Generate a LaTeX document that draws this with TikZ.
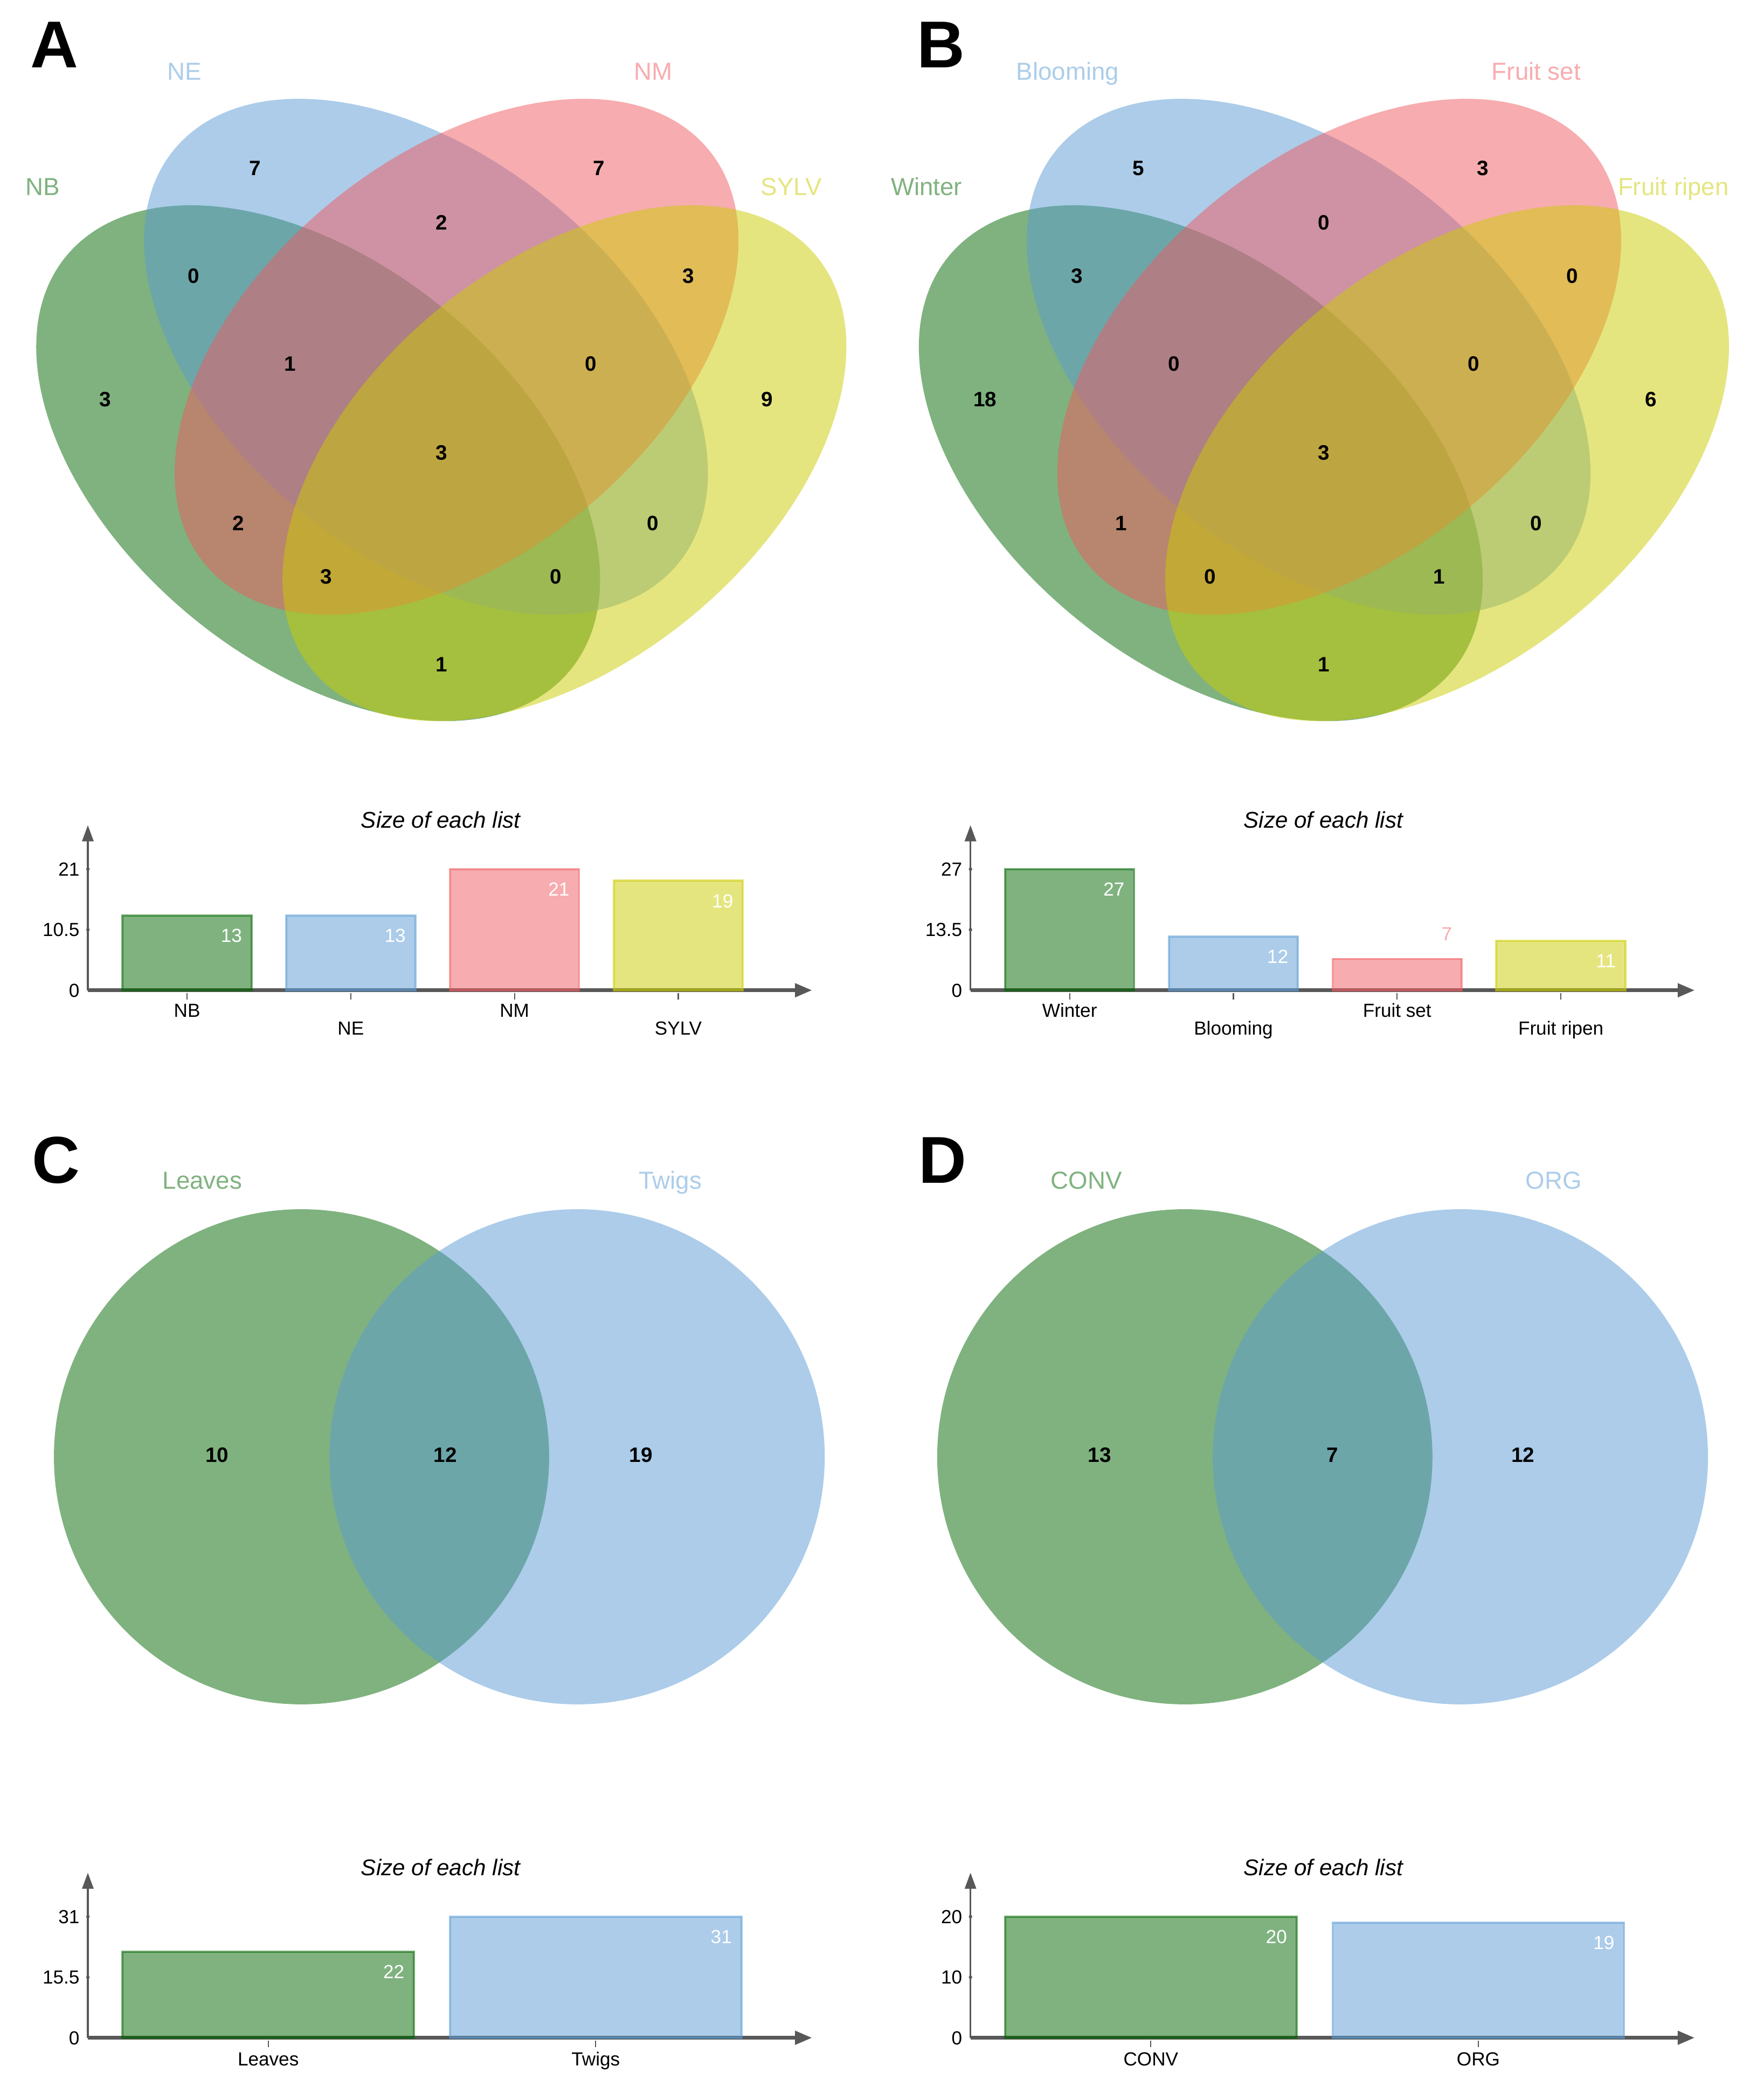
\documentclass[tikz,border=0pt]{standalone}
\usepackage{fontspec}
\setmainfont{Liberation Sans}
\usetikzlibrary{arrows.meta}
\definecolor{cg}{RGB}{0,102,0}
\definecolor{cb}{RGB}{90,155,212}
\definecolor{cp}{RGB}{241,90,96}
\definecolor{cy}{RGB}{204,204,0}
\definecolor{axgray}{RGB}{88,88,88}
\colorlet{lg}{cg!50!white}
\colorlet{lb}{cb!50!white}
\colorlet{lp}{cp!50!white}
\colorlet{ly}{cy!50!white}

\newcommand\vel[4]{%
  \begin{scope}[shift={(#1,#2)}, yscale=0.915, rotate=#3]
    \fill[#4, fill opacity=0.5] (0,0) ellipse [x radius=255, y radius=157];
  \end{scope}}

\newcommand\chartframe[3]{%
  \node[ttl] (#1title) at (331,616) {Size of each list};
  \coordinate (#1o) at (66,744);
  \coordinate (#1ytip) at (66,620);
  \coordinate (#1xtip) at (610,744);
  \draw[yax] (#1o) -- (#1ytip);
  \draw[xax] (#1o) -- (#1xtip);
  \fill[axgray] (66,653) circle [radius=1.3];
  \fill[axgray] (66,698.5) circle [radius=1.3];
  \node[ticklab, anchor=east] (#1t0) at (60,744) {0};
  \node[ticklab, anchor=east] (#1t1) at (60,698.5) {#3};
  \node[ticklab, anchor=east] (#1t2) at (60,653) {#2};}

% name, x1, x2, value, max, colour, category, category y
\newcommand\cbar[8]{%
  \pgfmathsetmacro\bt{744-91*#4/#5}
  \filldraw[barsty, fill=#6, draw=#6] (#2,744) rectangle (#3,\bt);
  \node[vallab, anchor=east] (#1v) at ({#3-7},{\bt+15}) {#4};
  \draw[xtk] ({(#2+#3)/2},746) -- ({(#2+#3)/2},751);
  \node[ticklab] (#1c) at ({(#2+#3)/2},#8) {#7};}

\newcommand\cbarup[9]{%
  \pgfmathsetmacro\bt{744-91*#4/#5}
  \filldraw[barsty, fill=#6, draw=#6] (#2,744) rectangle (#3,\bt);
  \node[ticklab, text=#9, anchor=east] (#1v) at ({#3-7},{\bt-19}) {#4};
  \draw[xtk] ({(#2+#3)/2},746) -- ({(#2+#3)/2},751);
  \node[ticklab] (#1c) at ({(#2+#3)/2},#8) {#7};}

\begin{document}
\begin{tikzpicture}[x=0.024702cm, y=-0.024702cm,
  num/.style={font=\fontsize{11}{11}\selectfont\bfseries, inner sep=0pt, text height=7.9pt, text depth=0pt},
  setlab/.style={font=\fontsize{13}{13}\selectfont, inner sep=0pt, text height=9.3pt, text depth=0pt},
  panel/.style={font=\fontsize{35}{35}\selectfont\bfseries, inner sep=0pt, text height=25pt, text depth=0pt},
  ttl/.style={font=\fontsize{12}{12}\selectfont\itshape, inner sep=0pt, text height=8.6pt, text depth=0pt},
  ticklab/.style={font=\fontsize{10}{10}\selectfont, inner sep=0pt, text height=7.2pt, text depth=0pt},
  vallab/.style={ticklab, text=white},
  yax/.style={draw=axgray, line width=0.9pt, -{Triangle[length=8.5pt, width=6pt]}},
  xax/.style={draw=axgray, line width=1.9pt, -{Triangle[length=9pt, width=7pt]}},
  xtk/.style={draw=axgray, line width=0.6pt},
  barsty/.style={fill opacity=0.5, draw opacity=0.55, line width=1.1pt},
]
\useasboundingbox (0,0) rectangle (1325,1568);
\fill[white] (0,0) rectangle (1325,1568);

% ---------------- Panel A ----------------
\node[panel] (labA) at (41,33) {A};
\vel{239}{348}{-45}{cg}
\vel{320}{268}{-45}{cb}
\vel{343}{268}{45}{cp}
\vel{424}{348}{45}{cy}
\node[setlab, text=lb] (aNE) at (138.5,53.5) {NE};
\node[setlab, text=lp] (aNM) at (490.5,53.5) {NM};
\node[setlab, text=lg] (aNB) at (32,140) {NB};
\node[setlab, text=ly] (aSY) at (594.5,140) {SYLV};
\foreach \nm/\px/\py/\t in {a1/191.5/126/7, a2/450/126/7, a3/331.5/167/2, a4/145.5/207/0,
  a5/517/207/3, a6/79/300/3, a7/218/273/1, a8/444/273/0, a9/576/300/9, a10/331.5/340/3,
  a11/179/393/2, a12/490.5/393/0, a13/245/433/3, a14/417.5/433/0, a15/331.5/499/1}
  \node[num] (\nm) at (\px,\py) {\t};

% ---------------- Panel B ----------------
\node[panel] (labB) at (707,33) {B};
\vel{902}{348}{-45}{cg}
\vel{983}{268}{-45}{cb}
\vel{1006}{268}{45}{cp}
\vel{1087}{348}{45}{cy}
\node[setlab, text=lb] (bBl) at (802,53.5) {Blooming};
\node[setlab, text=lp] (bFs) at (1154,53.5) {Fruit set};
\node[setlab, text=lg] (bWi) at (696,140) {Winter};
\node[setlab, text=ly] (bFr) at (1257,140) {Fruit ripen};
\foreach \nm/\px/\py/\t in {b1/855/126/5, b2/1114/126/3, b3/994.5/167/0, b4/809/207/3,
  b5/1181/207/0, b6/740/300/18, b7/882/273/0, b8/1107/273/0, b9/1240/300/6, b10/994.5/340/3,
  b11/842/393/1, b12/1154/393/0, b13/909/433/0, b14/1081/433/1, b15/994.5/499/1}
  \node[num] (\nm) at (\px,\py) {\t};

% ---------------- Panel C ----------------
\node[panel] (labC) at (42,871) {C};
\fill[cg, fill opacity=0.5] (226.5,1094.5) circle [radius=186];
\fill[cb, fill opacity=0.5] (433.5,1094.5) circle [radius=186];
\node[setlab, text=lg] (cLe) at (152,886.5) {Leaves};
\node[setlab, text=lb] (cTw) at (503.5,886.5) {Twigs};
\node[num] (c1) at (163,1093) {10};
\node[num] (c2) at (334.5,1093) {12};
\node[num] (c3) at (481.5,1093) {19};

% ---------------- Panel D ----------------
\node[panel] (labD) at (708,871) {D};
\fill[cg, fill opacity=0.5] (890,1094.5) circle [radius=186];
\fill[cb, fill opacity=0.5] (1097,1094.5) circle [radius=186];
\node[setlab, text=lg] (dCo) at (816,886.5) {CONV};
\node[setlab, text=lb] (dOr) at (1167,886.5) {ORG};
\node[num] (d1) at (826,1093) {13};
\node[num] (d2) at (1001,1093) {7};
\node[num] (d3) at (1144,1093) {12};

% ---------------- Bar charts ----------------
\begin{scope}
  \chartframe{ka}{21}{10.5}
  \cbar{kaNB}{92}{189}{13}{21}{cg}{NB}{759}
  \cbar{kaNE}{215}{312}{13}{21}{cb}{NE}{772.5}
  \cbar{kaNM}{338}{435}{21}{21}{cp}{NM}{759}
  \cbar{kaSY}{461}{558}{19}{21}{cy}{SYLV}{772.5}
\end{scope}
\begin{scope}[shift={(663,0)}]
  \chartframe{kb}{27}{13.5}
  \cbar{kbW}{92}{189}{27}{27}{cg}{Winter}{759}
  \cbar{kbB}{215}{312}{12}{27}{cb}{Blooming}{772.5}
  \cbarup{kbS}{338}{435}{7}{27}{cp}{Fruit set}{759}{lp}
  \cbar{kbR}{461}{558}{11}{27}{cy}{Fruit ripen}{772.5}
\end{scope}
\begin{scope}[shift={(0,787)}]
  \chartframe{kc}{31}{15.5}
  \cbar{kcL}{92}{311}{22}{31}{cg}{Leaves}{760}
  \cbar{kcT}{338}{557}{31}{31}{cb}{Twigs}{760}
\end{scope}
\begin{scope}[shift={(663,787)}]
  \chartframe{kd}{20}{10}
  \cbar{kdC}{92}{311}{20}{20}{cg}{CONV}{760}
  \cbar{kdO}{338}{557}{19}{20}{cb}{ORG}{760}
\end{scope}
\end{tikzpicture}
\end{document}
